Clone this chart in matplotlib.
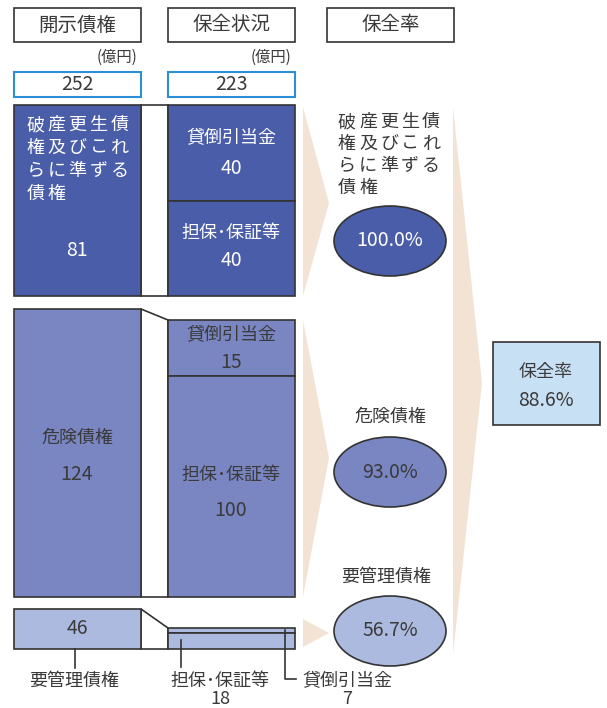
import matplotlib.pyplot as plt
from matplotlib.patches import Rectangle, Polygon, Ellipse

plt.rcParams['font.family'] = ['Noto Sans CJK JP', 'DejaVu Sans']

# data
headers = ['開示債権', '保全状況', '保全率']
total_disclosed = 252
total_covered = 223
total_rate = 88.6
categories = ['破産更生債権及びこれらに準ずる債権', '危険債権', '要管理債権']
disclosed = [81, 124, 46]
allowance = [40, 15, 7]
collateral = [40, 100, 18]
coverage = [100.0, 93.0, 56.7]
sub_labels = ['貸倒引当金', '担保･保証等']

# colours per category
fills = ['#4a5da8', '#7a86c2', '#adbae0']
beige = '#f3e3d5'
edge = '#333333'
txt = '#3a3a3a'

fig = plt.figure(figsize=(6.07, 7.08), dpi=100)
ax = fig.add_axes([0, 0, 1, 1])
ax.set_xlim(0, 607)
ax.set_ylim(708, 0)
ax.axis('off')

# layout (pixels)
L0, L1 = 14, 141      # left column
R0, R1 = 168, 295     # right column
rows_left = [(105, 296), (309, 597), (609, 649)]
rows_right_top = [105, 320, 628]
rows_split = [201, 376, 633]


def spaced(x0, y, s, pitch, **kw):
    for i, ch in enumerate(s):
        ax.text(x0 + i * pitch, y, ch, ha='center', va='center', **kw)


# beige arrows
ax.add_patch(Polygon([(303, 107), (329, 203), (303, 296)], color=beige, lw=0, zorder=0))
ax.add_patch(Polygon([(303, 320), (329, 458), (303, 597)], color=beige, lw=0, zorder=0))
ax.add_patch(Polygon([(303, 619), (329, 633), (303, 647)], color=beige, lw=0, zorder=0))
ax.add_patch(Polygon([(453, 107), (482, 383), (453, 655)], color=beige, lw=0, zorder=0))

# header boxes
for (x0, x1), h in zip([(L0, L1), (R0, R1), (327, 454)], headers):
    ax.add_patch(Rectangle((x0, 8), x1 - x0, 34, fc='white', ec=edge, lw=1.2))
    ax.text((x0 + x1) / 2, 25, h, ha='center', va='center', fontsize=14, color=txt)

ax.text(137, 57, '(億円)', ha='right', va='center', fontsize=11, color=txt)
ax.text(291, 57, '(億円)', ha='right', va='center', fontsize=11, color=txt)
for (x0, x1), v in zip([(L0, L1), (R0, R1)], [total_disclosed, total_covered]):
    ax.add_patch(Rectangle((x0, 72), x1 - x0, 25, fc='white', ec='#2a8fd6', lw=1.5))
    ax.text((x0 + x1) / 2, 85, str(v), ha='center', va='center', fontsize=14, color=txt)

# bars and connectors
for i in range(3):
    top, bot = rows_left[i]
    rtop = rows_right_top[i]
    split = rows_split[i]
    ax.add_patch(Polygon([(L1, top), (R0, rtop), (R0, bot), (L1, bot)],
                         closed=True, fc='white', ec=edge, lw=1.2, zorder=1))
    ax.add_patch(Rectangle((L0, top), L1 - L0, bot - top, fc=fills[i], ec=edge, lw=1.2, zorder=2))
    ax.add_patch(Rectangle((R0, rtop), R1 - R0, split - rtop, fc=fills[i], ec=edge, lw=1.2, zorder=2))
    ax.add_patch(Rectangle((R0, split), R1 - R0, bot - split, fc=fills[i], ec=edge, lw=1.2, zorder=2))

# text inside top row (white)
w = 'white'
lines0 = ['破産更生債', '権及びこれ', 'らに準ずる', '債権']
for k, ln in enumerate(lines0):
    spaced(35.5, 125 + k * 23, ln, 21, fontsize=13, color=w)
ax.text(77, 250, str(disclosed[0]), ha='center', va='center', fontsize=14, color=w)
ax.text(231, 138, sub_labels[0], ha='center', va='center', fontsize=13, color=w)
ax.text(231, 168, str(allowance[0]), ha='center', va='center', fontsize=14, color=w)
ax.text(231, 233, sub_labels[1], ha='center', va='center', fontsize=13, color=w)
ax.text(231, 261, str(collateral[0]), ha='center', va='center', fontsize=14, color=w)

# middle row
ax.text(77, 438, categories[1], ha='center', va='center', fontsize=13, color=txt)
ax.text(77, 475, str(disclosed[1]), ha='center', va='center', fontsize=14, color=txt)
ax.text(231, 335, sub_labels[0], ha='center', va='center', fontsize=13, color=txt)
ax.text(231, 362, str(allowance[1]), ha='center', va='center', fontsize=14, color=txt)
ax.text(231, 475, sub_labels[1], ha='center', va='center', fontsize=13, color=txt)
ax.text(231, 511, str(collateral[1]), ha='center', va='center', fontsize=14, color=txt)

# bottom row
ax.text(77, 628, str(disclosed[2]), ha='center', va='center', fontsize=14, color=txt)
ax.plot([75, 75], [649, 668], color=edge, lw=1.2)
ax.text(74, 681, categories[2], ha='center', va='center', fontsize=13, color=txt)
ax.plot([181, 181], [640, 667], color=edge, lw=1.2)
ax.text(220, 681, sub_labels[1], ha='center', va='center', fontsize=13, color=txt)
ax.text(220, 699, str(collateral[2]), ha='center', va='center', fontsize=13, color=txt)
ax.plot([285, 285, 296], [630, 679, 679], color=edge, lw=1.2)
ax.text(347, 681, sub_labels[0], ha='center', va='center', fontsize=13, color=txt)
ax.text(347, 699, str(allowance[2]), ha='center', va='center', fontsize=13, color=txt)

# coverage ellipses
ell_y = [241, 472, 631]
ell_txt = ['white', txt, txt]
for i in range(3):
    ax.add_patch(Ellipse((390, ell_y[i]), 112, 70, fc=fills[i], ec=edge, lw=1.2, zorder=3))
    ax.text(390, ell_y[i], f'{coverage[i]:.1f}%', ha='center', va='center',
            fontsize=14, color=ell_txt[i], zorder=4)

lines1 = ['破産更生債', '権及びこれ', 'らに準ずる', '債権']
for k, ln in enumerate(lines1):
    spaced(347, 122 + k * 22, ln, 21, fontsize=13, color=txt)
ax.text(390, 417, categories[1], ha='center', va='center', fontsize=13, color=txt)
ax.text(386, 577, categories[2], ha='center', va='center', fontsize=13, color=txt)

# total coverage box
ax.add_patch(Rectangle((493, 342), 107, 83, fc='#c8e0f4', ec=edge, lw=1.2, zorder=3))
ax.text(546, 372, headers[2], ha='center', va='center', fontsize=13, color=txt, zorder=4)
ax.text(546, 400, f'{total_rate:.1f}%', ha='center', va='center', fontsize=14, color=txt, zorder=4)

fig.savefig('out.png', dpi=100)
